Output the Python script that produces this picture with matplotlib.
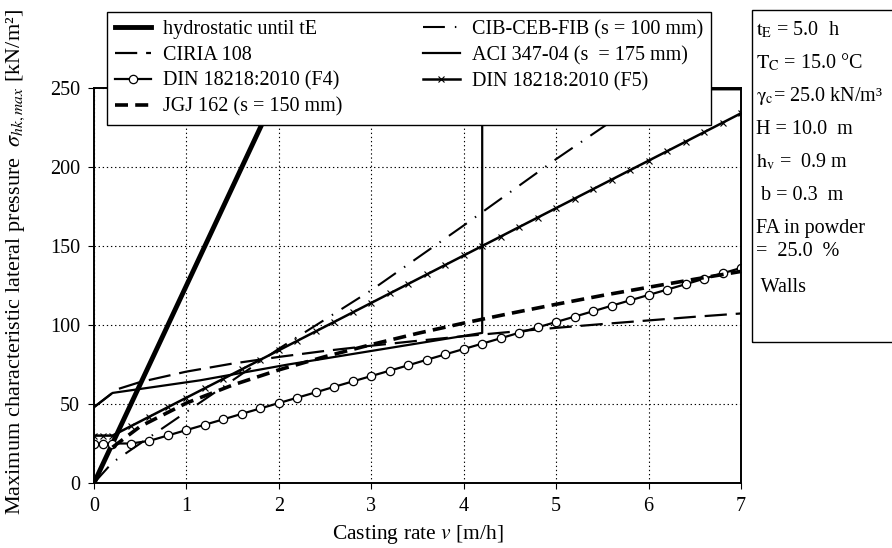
import numpy as np
import matplotlib
matplotlib.use('Agg')
import matplotlib.pyplot as plt
from matplotlib.patches import Rectangle

plt.rcParams['font.family'] = ['Liberation Serif', 'DejaVu Serif']
plt.rcParams['mathtext.fontset'] = 'stix'

# casting rate v [m/h] and pressure [kN/m2]
v_hyd = [0, 2.0, 7.0]
p_hyd = [0, 250, 250]

v_ciria = [0, 0.25, 0.5, 1, 1.5, 2, 2.5, 3, 3.5, 4, 4.5, 5, 5.5, 6, 6.5, 7]
p_ciria = [48.0, 59.3, 63.9, 70.5, 75.6, 79.8, 83.6, 86.9, 90.0, 92.9,
           95.6, 98.2, 100.6, 102.9, 105.2, 107.3]

v_cib = [0, 0.2, 0.5, 1, 2, 3, 4, 5, 6, 6.12, 7]
p_cib = [0, 13, 25, 45, 85, 122, 163, 205, 245, 250, 250]

v_aci = [0, 0.2, 1.15, 2.1, 4.2, 4.2, 7]
p_aci = [48, 57, 65, 75, 95, 250, 250]

v_din = [0, 0.1, 0.2, 0.4, 0.6, 0.8, 1.0, 1.2, 1.4, 1.6, 1.8, 2.0, 2.2, 2.4,
         2.6, 2.8, 3.0, 3.2, 3.4, 3.6, 3.8, 4.0, 4.2, 4.4, 4.6, 4.8, 5.0,
         5.2, 5.4, 5.6, 5.8, 6.0, 6.2, 6.4, 6.6, 6.8, 7.0]
p_f4 = [25, 25, 25, 25, 26.7, 30.1, 33.5, 36.9, 40.3, 43.8, 47.2, 50.6,
        54.0, 57.4, 60.9, 64.3, 67.7, 71.1, 74.5, 78.0, 81.4, 84.8, 88.2,
        91.6, 95.1, 98.5, 101.9, 105.3, 108.7, 112.2, 115.6, 119.0, 122.4,
        125.8, 129.3, 132.7, 136.1]
p_f5 = [30, 30, 30, 36, 42, 48, 54, 60, 66, 72, 78, 84, 90, 96, 102, 108,
        114, 120, 126, 132, 138, 144, 150, 156, 162, 168, 174, 180, 186,
        192, 198, 204, 210, 216, 222, 228, 234]

v_jgj = [0.2, 0.5, 1, 1.5, 2, 2.5, 3, 3.5, 4, 4.5, 5, 5.5, 6, 6.5, 7]
p_jgj = [22.6, 35.8, 50.6, 62.0, 71.6, 80.0, 87.6, 94.7, 101.2, 107.3,
         113.1, 118.7, 123.9, 129.0, 133.9]

fig = plt.figure(figsize=(8.92, 5.48), dpi=100)
ax = fig.add_axes([94/892, 1-483/548, (741-94)/892, (483-88)/548])

l_hyd, = ax.plot(v_hyd, p_hyd, color='k', lw=3.5, label='hydrostatic until tE')
l_ciria, = ax.plot(v_ciria, p_ciria, color='k', lw=1.6, dashes=(10, 4),
                   label='CIRIA 108')
l_f4, = ax.plot(v_din, p_f4, color='k', lw=1.6, marker='o', ms=6,
                mfc='white', mec='k', mew=0.9, label='DIN 18218:2010 (F4)')
l_jgj, = ax.plot(v_jgj, p_jgj, color='k', lw=2.6, dashes=(3.6, 2),
                 label='JGJ 162 (s = 150 mm)')
l_cib, = ax.plot(v_cib, p_cib, color='k', lw=1.5, dashes=(10.5, 4.8, 0.7, 4.8),
                 label='CIB-CEB-FIB (s = 100 mm)')
l_aci, = ax.plot(v_aci, p_aci, color='k', lw=1.6, label='ACI 347-04 (s  = 175 mm)')
l_f5, = ax.plot(v_din, p_f5, color='k', lw=1.8, marker='x', ms=4, mew=0.8,
                label='DIN 18218:2010 (F5)')

ax.set_xlim(0, 7)
ax.set_ylim(0, 250)
ax.set_xticks(range(0, 8))
ax.set_yticks(range(0, 251, 50))
ax.grid(True, color='k', ls=(0, (1.2, 2.5)), lw=0.8)
ax.tick_params(direction='out', length=4, width=0.8, labelsize=14.5, pad=6)
for s in ax.spines.values():
    s.set_linewidth(1.4)

ax.set_xlabel('Casting rate $v$ [m/h]', fontsize=15.5, labelpad=5)
fig.text(0.018, 1-262/548,
         r'Maximum characteristic lateral pressure  $\sigma_{hk,max}$ [kN/m²]',
         rotation=90, fontsize=16, ha='center', va='center')

handles = [l_hyd, l_ciria, l_f4, l_jgj, l_cib, l_aci, l_f5]
leg = fig.legend(handles=handles, ncol=2, loc='upper left',
                 bbox_to_anchor=(107/892, 1-12/548), fontsize=14.5,
                 frameon=True, fancybox=False, framealpha=1, edgecolor='k',
                 borderaxespad=0, handlelength=1.8, handletextpad=0.6,
                 columnspacing=4.0, labelspacing=0.33, borderpad=0.4)
leg.get_frame().set_linewidth(1.0)

# parameter box on the right
fig.add_artist(Rectangle((752/892, 1-342/548), 0.3, (342-10)/548,
                         transform=fig.transFigure, fill=False, ec='k', lw=1.0))
params = [r'$\mathrm{t_E}$ = 5.0  h',
          r'$\mathrm{T_C}$ = 15.0 °C',
          r'$\mathrm{\gamma_c}$= 25.0 kN/m³',
          'H = 10.0  m',
          r'$\mathrm{h_v}$ =  0.9 m',
          ' b = 0.3  m',
          'FA in powder',
          '=  25.0  %',
          ' Walls']
ys = [30, 62, 96, 130, 162, 195, 228, 252, 287]
for t, y in zip(params, ys):
    fig.text(756/892, 1-y/548, t, fontsize=14.5, ha='left', va='center')

fig.savefig('out.png', dpi=100)
